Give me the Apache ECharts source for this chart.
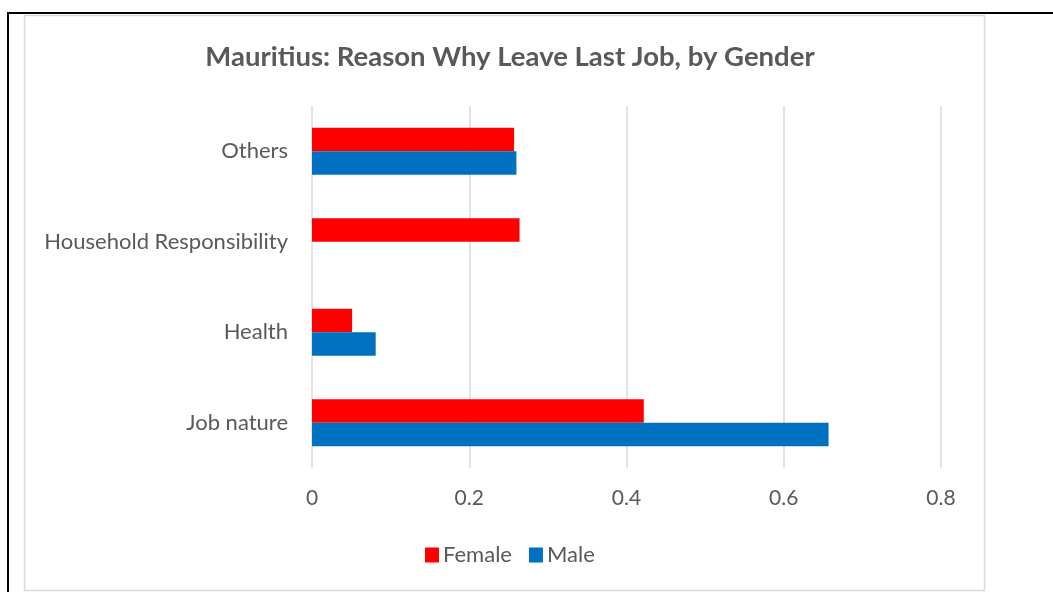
<!DOCTYPE html>
<html>
<head>
<meta charset="utf-8">
<script src="https://cdn.jsdelivr.net/npm/echarts@6/dist/echarts.min.js"></script>
<style>
  html, body { margin: 0; padding: 0; background: #ffffff; }
  #chart { width: 1053px; height: 592px; }
</style>
</head>
<body>
<div id="chart"></div>
<script>
// Reason categories, bottom to top on the value axis
const categories = ['Job nature', 'Health', 'Household Responsibility', 'Others'];
// Share of respondents by gender
const femaleValues = [0.422, 0.051, 0.264, 0.257];
const maleValues = [0.657, 0.081, null, 0.260];
const xTicks = [0, 0.2, 0.4, 0.6, 0.8];

const textColor = '#595959';
const fontFamily = 'Lato, "Open Sans", "Liberation Sans", sans-serif';

const chart = echarts.init(document.getElementById('chart'), null, { renderer: 'canvas' });
chart.setOption({
  backgroundColor: '#ffffff',
  animation: false,
  graphic: [
    { type: 'rect', shape: { x: 24.5, y: 15.5, width: 960, height: 575 },
      style: { fill: 'none', stroke: '#d9d9d9', lineWidth: 1.5 }, z: -1 },
    { type: 'line', shape: { x1: 7, y1: 13, x2: 1053, y2: 13 },
      style: { stroke: '#000000', lineWidth: 2 } },
    { type: 'line', shape: { x1: 8, y1: 12, x2: 8, y2: 592 },
      style: { stroke: '#000000', lineWidth: 2 } }
  ],
  title: {
    text: 'Mauritius: Reason Why Leave Last Job, by Gender',
    left: 505, top: 38, textAlign: 'center',
    textStyle: { color: textColor, fontFamily: fontFamily, fontWeight: 'bold', fontSize: 27.5 }
  },
  legend: {
    data: ['Female', 'Male'],
    top: 539, left: 420,
    itemWidth: 14, itemHeight: 15, itemGap: 17,
    icon: 'rect',
    textStyle: { color: textColor, fontFamily: fontFamily, fontSize: 22, padding: [0, 0, 0, -1] }
  },
  grid: { left: 312, right: 112, top: 106, bottom: 124, containLabel: false },
  xAxis: {
    type: 'value', min: 0, max: 0.8, interval: 0.2,
    axisLine: { show: false }, axisTick: { show: false },
    axisLabel: {
      color: textColor, fontFamily: fontFamily, fontSize: 21, margin: 20,
      formatter: v => xTicks.includes(Math.round(v * 10) / 10) ? String(Math.round(v * 10) / 10) : ''
    },
    splitLine: { lineStyle: { color: '#d9d9d9', width: 1.5 } }
  },
  yAxis: {
    type: 'category', data: categories,
    axisLine: { show: false }, axisTick: { show: false },
    axisLabel: { color: textColor, fontFamily: fontFamily, fontSize: 22, margin: 24 }
  },
  series: [
    { name: 'Female', type: 'bar', data: femaleValues, barWidth: 23.5, barGap: '0%',
      barCategoryGap: '48%', itemStyle: { color: '#ff0000' } },
    { name: 'Male', type: 'bar', data: maleValues, barWidth: 23.5, barGap: '0%',
      barCategoryGap: '48%', itemStyle: { color: '#0070c0' } }
  ]
});
</script>
</body>
</html>
